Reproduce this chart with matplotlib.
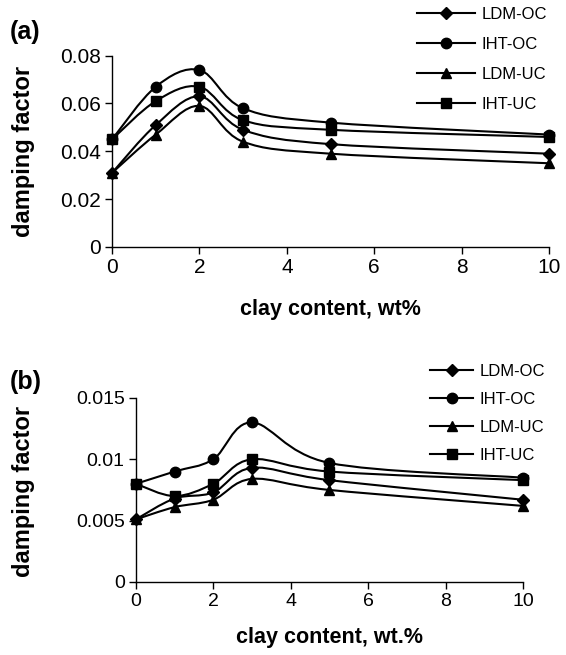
import numpy as np
import matplotlib
matplotlib.use('Agg')
import matplotlib.pyplot as plt
from matplotlib.path import Path
from matplotlib.patches import PathPatch
from matplotlib.lines import Line2D
from matplotlib.ticker import FuncFormatter

plt.rcParams['font.family'] = ['Liberation Sans', 'DejaVu Sans']

# clay content (wt%)
clay = [0, 1, 2, 3, 5, 10]
series_names = ['LDM-OC', 'IHT-OC', 'LDM-UC', 'IHT-UC']
markers = ['D', 'o', '^', 's']
msizes = [6, 7.5, 7.5, 7.5]

# (a) damping factor
a_ldm_oc = [0.031, 0.051, 0.063, 0.049, 0.043, 0.039]
a_iht_oc = [0.045, 0.067, 0.074, 0.058, 0.052, 0.047]
a_ldm_uc = [0.031, 0.047, 0.059, 0.044, 0.039, 0.035]
a_iht_uc = [0.045, 0.061, 0.067, 0.053, 0.049, 0.046]

# (b) damping factor
b_ldm_oc = [0.0051, 0.0068, 0.0073, 0.0093, 0.0083, 0.0067]
b_iht_oc = [0.008, 0.009, 0.010, 0.013, 0.0097, 0.0085]
b_ldm_uc = [0.0051, 0.0061, 0.0067, 0.0084, 0.0075, 0.0062]
b_iht_uc = [0.008, 0.007, 0.008, 0.010, 0.009, 0.0083]


def smooth_path(x, y):
    # spreadsheet-style smoothed line: cubic Bezier through every point
    p = np.column_stack([x, y]).astype(float)
    n = len(p)
    verts = [p[0]]
    codes = [Path.MOVETO]
    for i in range(n - 1):
        p0 = p[i - 1] if i > 0 else p[i]
        p3 = p[i + 2] if i + 2 < n else p[i + 1]
        c1 = p[i] + (p[i + 1] - p0) / 6.0
        c2 = p[i + 1] - (p3 - p[i]) / 6.0
        verts += [c1, c2, p[i + 1]]
        codes += [Path.CURVE4] * 3
    return Path(verts, codes)


def draw_panel(ax, data, ylim, yticks, lsize):
    for vals, m, ms in zip(data, markers, msizes):
        ax.add_patch(PathPatch(smooth_path(clay, vals), fill=False,
                               edgecolor='black', lw=1.5, zorder=2))
        ax.plot(clay, vals, linestyle='none', marker=m, ms=ms,
                color='black', zorder=3, clip_on=False)
    ax.set_xlim(0, 10)
    ax.set_ylim(*ylim)
    ax.set_xticks([0, 2, 4, 6, 8, 10])
    ax.set_yticks(yticks)
    ax.yaxis.set_major_formatter(FuncFormatter(lambda v, p: '%g' % v))
    for s in ['top', 'right']:
        ax.spines[s].set_visible(False)
    for s in ['left', 'bottom']:
        ax.spines[s].set_linewidth(1.0)
    ax.tick_params(direction='out', length=5, width=1.0, labelsize=lsize, pad=3)


fig = plt.figure(figsize=(5.66, 6.55), dpi=100)

ax1 = fig.add_axes([0.198, 0.623, 0.772, 0.292])
draw_panel(ax1, [a_ldm_oc, a_iht_oc, a_ldm_uc, a_iht_uc], (0, 0.08),
           [0, 0.02, 0.04, 0.06, 0.08], 15)
ax1.set_xlabel('clay content, wt%', fontsize=15.5, fontweight='bold', labelpad=16)

ax2 = fig.add_axes([0.240, 0.1115, 0.684, 0.281])
draw_panel(ax2, [b_ldm_oc, b_iht_oc, b_ldm_uc, b_iht_uc], (0, 0.015),
           [0, 0.005, 0.01, 0.015], 14)
ax2.set_xlabel('clay content, wt.%', fontsize=15.5, fontweight='bold', labelpad=12)

# y labels placed in figure coordinates
fig.text(0.0424, 0.7695, 'damping factor', fontsize=17, fontweight='bold',
         rotation=90, ha='center', va='center')
fig.text(0.0424, 0.2490, 'damping factor', fontsize=17, fontweight='bold',
         rotation=90, ha='center', va='center')

handles = [Line2D([], [], color='black', lw=1.5, marker=m, ms=ms)
           for m, ms in zip(markers, msizes)]
fig.legend(handles, series_names, loc='upper left', bbox_to_anchor=(0.725, 1.0),
           frameon=False, fontsize=12, handlelength=3.5, handletextpad=0.35,
           labelspacing=0.9, borderaxespad=0)
fig.legend(handles, series_names, loc='upper left', bbox_to_anchor=(0.748, 0.455),
           frameon=False, fontsize=12, handlelength=2.6, handletextpad=0.35,
           labelspacing=0.78, borderaxespad=0)

fig.text(0.018, 0.951, '(a)', fontsize=18, fontweight='bold', ha='left', va='center')
fig.text(0.018, 0.4168, '(b)', fontsize=18, fontweight='bold', ha='left', va='center')

fig.savefig('out.png', dpi=100)
